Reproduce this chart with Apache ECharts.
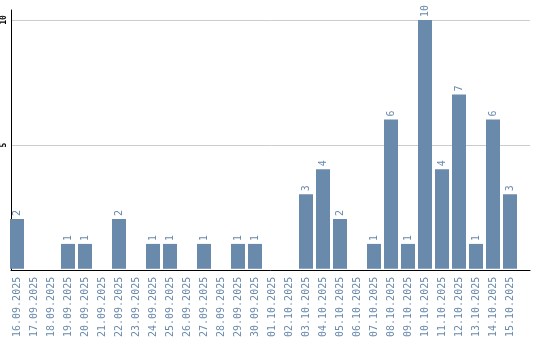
<!DOCTYPE html>
<html><head><meta charset="utf-8">
<script src="https://cdn.jsdelivr.net/npm/echarts@6/dist/echarts.min.js"></script>
<style>html,body{margin:0;padding:0;background:#fff}#c{width:540px;height:340px}</style>
</head><body><div id="c"></div>
<script>
const categories = ['16.09.2025','17.09.2025','18.09.2025','19.09.2025','20.09.2025','21.09.2025','22.09.2025','23.09.2025','24.09.2025','25.09.2025','26.09.2025','27.09.2025','28.09.2025','29.09.2025','30.09.2025','01.10.2025','02.10.2025','03.10.2025','04.10.2025','05.10.2025','06.10.2025','07.10.2025','08.10.2025','09.10.2025','10.10.2025','11.10.2025','12.10.2025','13.10.2025','14.10.2025','15.10.2025'];
const values = [2,0,0,1,1,0,2,0,1,1,0,1,0,1,1,0,0,3,4,2,0,1,6,1,10,4,7,1,6,3];
const yTicks = [5, 10];
const yMax = 10.4;

const barColor = '#6a8aab';
const chart = echarts.init(document.getElementById('c'));
chart.setOption({
  animation: false,
  grid: [
    {left: 8.5, width: 510, top: 10, bottom: 70, containLabel: false},
    {left: 10, right: 10, top: 10, bottom: 70, containLabel: false}
  ],
  xAxis: [
    {type: 'category', gridIndex: 0, data: categories,
     axisLine: {show: false}, axisTick: {show: false}, splitLine: {show: false},
     axisLabel: {rotate: 90, interval: 0, margin: 8, color: barColor,
       fontFamily: 'DejaVu Sans Mono', fontSize: 10}},
    {type: 'value', gridIndex: 1, min: 0, max: 1,
     axisLine: {show: true, onZero: false, lineStyle: {color: '#000', width: 1}},
     axisTick: {show: false}, axisLabel: {show: false}, splitLine: {show: false}}
  ],
  yAxis: [
    {type: 'value', gridIndex: 0, min: 0, max: yMax, show: false},
    {type: 'value', gridIndex: 1, min: 0, max: yMax, interval: 5,
     axisLine: {show: true, lineStyle: {color: '#000', width: 1}},
     axisTick: {show: false},
     splitLine: {show: true, lineStyle: {color: ['#cccccc','#cccccc','#cccccc','rgba(0,0,0,0)'], width: 1}},
     axisLabel: {rotate: 90, margin: 3, color: '#000', fontFamily: 'DejaVu Sans Mono', fontSize: 8,
       fontWeight: 'bold',
       formatter: v => yTicks.includes(v) ? String(v) : ''}}
  ],
  series: [{
    type: 'bar', xAxisIndex: 0, yAxisIndex: 0, data: values,
    barWidth: 14,
    itemStyle: {color: barColor},
    label: {show: true, position: 'top', rotate: 90, align: 'left', verticalAlign: 'middle',
      distance: 3, color: barColor, fontFamily: 'DejaVu Sans Mono', fontSize: 10,
      formatter: p => p.value > 0 ? String(p.value) : ''}
  }]
});
</script></body></html>
